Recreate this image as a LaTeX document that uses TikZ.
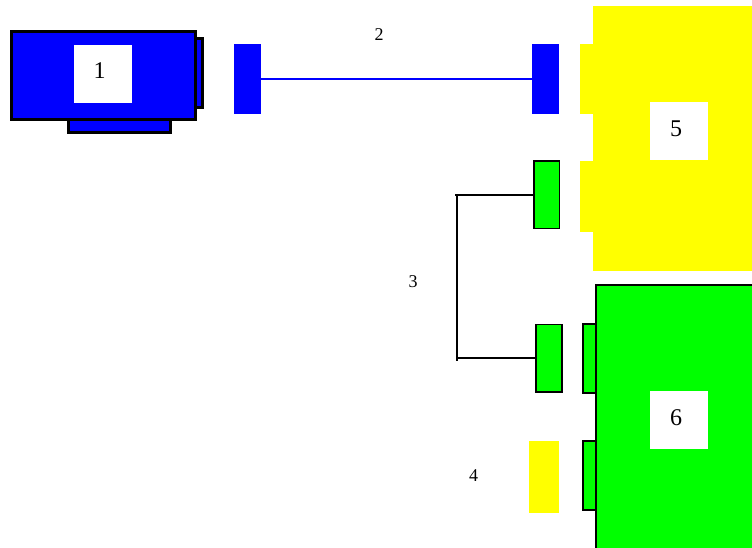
\documentclass[tikz,border=0pt]{standalone}
\usepackage{fontspec}
\setmainfont{Liberation Serif}
\definecolor{pblue}{RGB}{0,0,255}
\definecolor{pgreen}{RGB}{0,255,0}
\definecolor{pyellow}{RGB}{255,255,0}
\tikzset{
  box/.style={rectangle,inner sep=0pt,outer sep=0pt,line width=1.8pt,draw=black},
  bluebox/.style={box,line width=2.2pt,fill=pblue},
  flat/.style={rectangle,inner sep=0pt,outer sep=0pt,draw=none},
  plate/.style={flat,fill=white,minimum width=58pt,minimum height=58pt},
  bignum/.style={inner sep=0pt,font=\fontsize{24}{24}\selectfont},
  smallnum/.style={inner sep=0pt,font=\fontsize{18}{18}\selectfont},
  wire/.style={line width=1.6pt,draw=black},
  bluewire/.style={line width=1.4pt,draw=pblue}
}
\begin{document}
\begin{tikzpicture}[x=1pt,y=-1pt]
\useasboundingbox (0,0) rectangle (752,548);
% device 1
\node[bluebox,minimum width=7pt,minimum height=69pt] (t1a) at (199,73) {};
\node[bluebox,minimum width=102pt,minimum height=13pt] (t1b) at (119.5,126) {};
\node[bluebox,minimum width=184pt,minimum height=88pt] (d1) at (103.5,75.5) {};
\node[plate] (p1) at (103,74) {};
\node[bignum] (n1) at (99.5,71) {1};
% blue cable
\node[flat,fill=pblue,minimum width=27pt,minimum height=69.5pt] (b1) at (247.5,79) {};
\node[flat,fill=pblue,minimum width=27pt,minimum height=69.5pt] (b2) at (545,79) {};
\draw[bluewire] (b1) -- (b2);
\node[smallnum] (n2) at (379,35) {2};
% device 5
\node[flat,fill=pyellow,minimum width=159pt,minimum height=265pt] (d5) at (672.5,138.5) {};
\node[flat,fill=pyellow,minimum width=13.5pt,minimum height=70.5pt] (t5a) at (587,79.25) {};
\node[flat,fill=pyellow,minimum width=13.5pt,minimum height=70pt] (t5b) at (587,196.5) {};
\node[plate] (p5) at (679,131) {};
\node[bignum] (n5) at (676,129) {5};
% black cable
\node[box,fill=pgreen,minimum width=25.5pt,minimum height=67.5pt] (g1) at (546.75,194.75) {};
\node[box,fill=pgreen,minimum width=25.5pt,minimum height=67.5pt] (g2) at (549,358.25) {};
\coordinate (c1) at (455,194.75);
\coordinate (c2) at (457,194.25);
\coordinate (c3) at (457,361);
\coordinate (c4) at (457,358.25);
\draw[wire] (g1.west) -- (c1);
\draw[wire] (c2) -- (c3);
\draw[wire] (g2.west) -- (c4);
\node[smallnum] (n3) at (413,282) {3};
% device 6
\node[box,fill=pgreen,minimum width=13pt,minimum height=69pt] (t6a) at (589.5,358.5) {};
\node[box,fill=pgreen,minimum width=13pt,minimum height=69pt] (t6b) at (589.5,475.5) {};
\fill[pgreen] (596,285) rectangle (752,548);
\coordinate (e1) at (596,549);
\coordinate (e2) at (596,285);
\coordinate (e3) at (752,285);
\draw[line width=1.8pt] (e1) -- (e2) -- (e3);
\node[plate] (p6) at (679,420) {};
\node[bignum] (n6) at (676,418) {6};
% loose plug
\node[flat,fill=pyellow,minimum width=30pt,minimum height=72pt] (y1) at (544,477) {};
\node[smallnum] (n4) at (473.5,476) {4};
\end{tikzpicture}
\end{document}
